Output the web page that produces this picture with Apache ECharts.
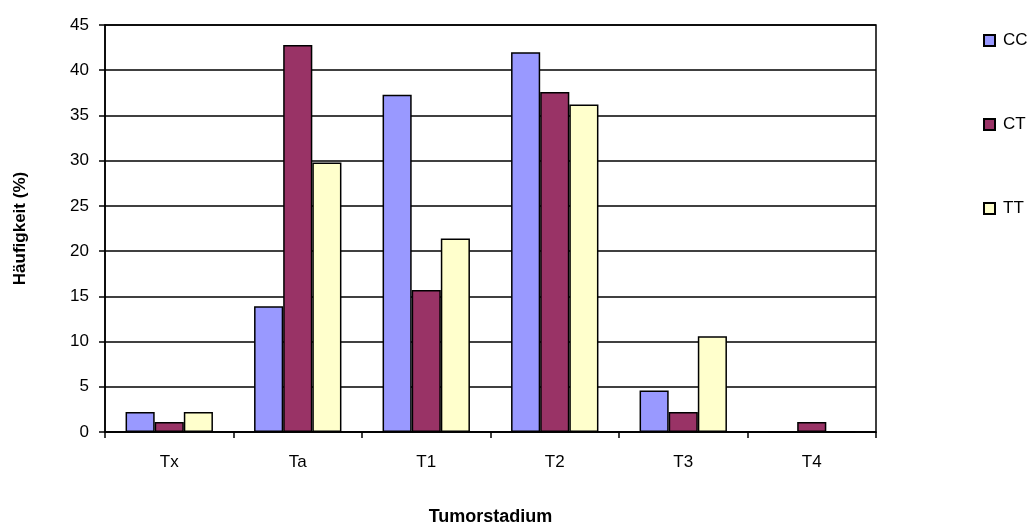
<!DOCTYPE html>
<html>
<head>
<meta charset="utf-8">
<script src="https://cdn.jsdelivr.net/npm/echarts@6/dist/echarts.min.js"></script>
<style>html,body{margin:0;padding:0;background:#fff;}#c{width:1033px;height:527px;}</style>
</head>
<body>
<div id="c"></div>
<script>
const categories = ['Tx', 'Ta', 'T1', 'T2', 'T3', 'T4'];
const ccValues = [2.2, 13.9, 37.3, 42.0, 4.6, 0];
const ctValues = [1.1, 42.8, 15.7, 37.6, 2.2, 1.1];
const ttValues = [2.2, 29.8, 21.4, 36.2, 10.6, 0];
const yTicks = [0, 5, 10, 15, 20, 25, 30, 35, 40, 45];

const font = '"Liberation Sans", Arial, sans-serif';
const chart = echarts.init(document.getElementById('c'), null, {renderer: 'canvas'});
const barStyle = (c) => ({color: c, borderColor: '#000', borderWidth: 1.5});
chart.setOption({
  animation: false,
  backgroundColor: '#fff',
  textStyle: {fontFamily: font},
  grid: {left: 105, right: 157, top: 25, bottom: 95, containLabel: false, outerBoundsMode: 'none', show: true, borderColor: '#000', borderWidth: 1.5, backgroundColor: 'transparent'},
  legend: {
    orient: 'vertical', left: 978, top: 27, itemGap: 67,
    icon: 'rect', itemWidth: 11, itemHeight: 11,
    textStyle: {fontFamily: font, fontSize: 17, color: '#000', padding: [0, 0, 0, 3]},
    data: ['CC', 'CT', 'TT']
  },
  xAxis: {
    type: 'category', data: categories,
    name: 'Tumorstadium', nameLocation: 'middle', nameGap: 76,
    nameTextStyle: {fontFamily: font, fontSize: 18, fontWeight: 'bold', color: '#000'},
    axisLine: {lineStyle: {color: '#000', width: 1.5}},
    axisTick: {show: true, alignWithLabel: false, length: 6, lineStyle: {color: '#000', width: 1.5}},
    axisLabel: {fontFamily: font, fontSize: 17, color: '#000', margin: 22},
    splitLine: {show: false}
  },
  yAxis: {
    type: 'value', min: yTicks[0], max: yTicks[yTicks.length - 1], interval: 5,
    name: 'Häufigkeit (%)', nameLocation: 'middle', nameGap: 76, nameRotate: 90,
    nameTextStyle: {fontFamily: font, fontSize: 17, fontWeight: 'bold', color: '#000'},
    axisLine: {show: true, lineStyle: {color: '#000', width: 1.5}},
    axisTick: {show: true, inside: false, length: 6, lineStyle: {color: '#000', width: 1.5}},
    axisLabel: {fontFamily: font, fontSize: 17, color: '#000', margin: 16},
    splitLine: {show: true, lineStyle: {color: '#000', width: 1.5}}
  },
  series: [
    {name: 'CC', type: 'bar', data: ccValues, barGap: '0%', barCategoryGap: '32%', itemStyle: barStyle('#9999FF')},
    {name: 'CT', type: 'bar', data: ctValues, itemStyle: barStyle('#993366')},
    {name: 'TT', type: 'bar', data: ttValues, itemStyle: barStyle('#FFFFCC')}
  ]
});
</script>
</body>
</html>
